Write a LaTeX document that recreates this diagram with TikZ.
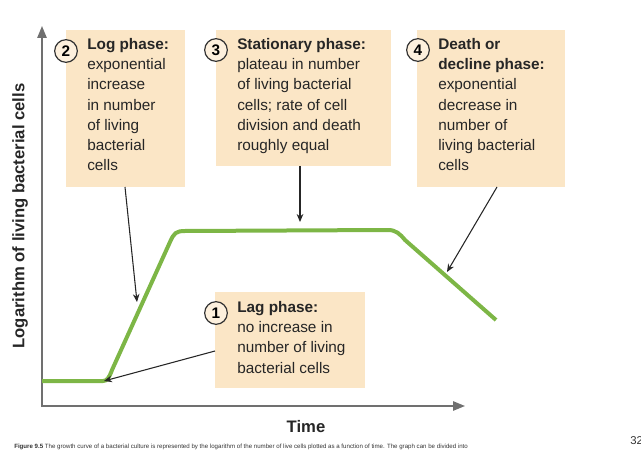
\documentclass[tikz,border=0pt]{standalone}
\usepackage{fontspec}
\setmainfont{Liberation Sans}
\usetikzlibrary{arrows.meta}
\definecolor{boxc}{HTML}{FBE6C6}
\definecolor{grn}{HTML}{7DB646}
\definecolor{axc}{HTML}{707070}
\tikzset{
 phase/.style={fill=boxc,inner sep=0pt,anchor=north west,align=left,font=\fontsize{11.5}{15.2}\selectfont,text=black!85},
 num/.style={circle,draw=black!80,line width=0.9pt,fill=boxc!60,minimum size=17pt,inner sep=0pt,font=\fontsize{11.5}{12}\selectfont\bfseries},
 pt/.style={-{Stealth[length=6pt,width=5pt]},line width=0.8pt,black!85},
}
\begin{document}
\begin{tikzpicture}[x=0.75pt,y=-0.75pt]
\useasboundingbox (0,0) rectangle (641,452);
\fill[boxc] (66,30) rectangle (185,187);
\fill[boxc] (216,30) rectangle (391,166);
\fill[boxc] (417,30) rectangle (565,187);
\fill[boxc] (215,292) rectangle (365,388);
\node[phase,fill=none] (t2) at (87,38) {\textbf{Log phase:}\\exponential\\increase\\in number\\of living\\bacterial\\cells};
\node[phase,fill=none] (t3) at (237,38) {\textbf{Stationary phase:}\\plateau in number\\of living bacterial\\cells; rate of cell\\division and death\\roughly equal};
\node[phase,fill=none] (t4) at (438,38) {\textbf{Death or}\\\textbf{decline phase:}\\exponential\\decrease in\\number of\\living bacterial\\cells};
\node[phase,fill=none] (t1) at (237,301) {\textbf{Lag phase:}\\no increase in\\number of living\\bacterial cells};
\node[num] (n2) at (66,51) {2};
\node[num] (n3) at (216,50) {3};
\node[num] (n4) at (418,50) {4};
\node[num] (n1) at (216,313) {1};
% axes
\draw[axc,line width=1.3pt,-{Triangle[length=9pt,width=7pt]}] (42,407) -- (42,26);
\draw[axc,line width=1.3pt,-{Triangle[length=9pt,width=7pt]}] (41,406) -- (465,406);
% curve
\draw[grn,line width=3pt,line join=round] (42,381) -- (103,381) .. controls (107,381) and (109,378) .. (112,370) -- (170,242) .. controls (174,233) and (176,231) .. (185,231) -- (388,230) .. controls (396,230) and (400,234) .. (405,240) -- (496,320);
% pointers
\coordinate (a2) at (137,302);
\coordinate (a3) at (300,222);
\coordinate (a4) at (447,272);
\coordinate (a1) at (104,381);
\coordinate (s2) at (125,187);
\coordinate (s3) at (300,166);
\coordinate (s4) at (497,187);
\coordinate (s1) at (215,351);
\draw[pt] (s2) -- (a2);
\draw[pt] (s3) -- (a3);
\draw[pt] (s4) -- (a4);
\draw[pt] (s1) -- (a1);
\node[rotate=90,font=\fontsize{12.5}{14}\selectfont\bfseries,text=black!85] (yl) at (20,216) {Logarithm of living bacterial cells};
\node[font=\fontsize{12.5}{14}\selectfont\bfseries,text=black!85] (xl) at (306,427) {Time};
\node[anchor=west,font=\fontsize{4.6}{5}\selectfont,text=black!80,inner sep=0pt] (cap) at (14,447) {\textbf{Figure 9.5} The growth curve of a bacterial culture is represented by the logarithm of the number of live cells plotted as a function of time. The graph can be divided into};
\node[anchor=west,font=\fontsize{8.5}{9}\selectfont,text=black!80,inner sep=0pt] (pg) at (630,441) {32};
\end{tikzpicture}
\end{document}
